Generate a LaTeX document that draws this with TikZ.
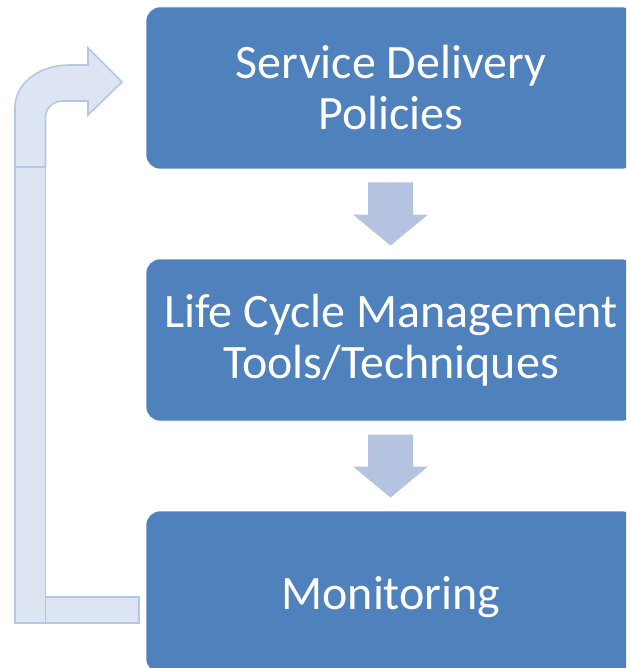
\documentclass[tikz,border=0pt]{standalone}
\usepackage{fontspec}
\setmainfont{Carlito}
\usetikzlibrary{calc}

\definecolor{boxblue}{HTML}{4F81BD}
\definecolor{downfill}{HTML}{B4C3DF}
\definecolor{loopfill}{HTML}{DCE5F1}
\definecolor{loopline}{HTML}{B3C8E3}

\tikzset{
  stagebox/.style={rectangle, rounded corners=14pt, fill=boxblue, draw=white, line width=0.6pt,
    minimum width=490pt, minimum height=162pt, text=white, align=center,
    font=\fontsize{48}{51}\selectfont},
  downarrow/.style={fill=downfill},
  looparrow/.style={fill=loopfill, draw=loopline, line width=1.6pt, line join=miter}
}

\begin{document}
\begin{tikzpicture}[x=1pt,y=-1pt]
            \clip (0,0) rectangle (626,668);
            \fill[white] (0,0) rectangle (626,668);

            \node[stagebox] (policies) at (391,88) {Service Delivery\\Policies};
            \node[stagebox] (tools) at (391,340) {Life Cycle Management\\Tools/Techniques};
            \node[stagebox, text height=44pt] (monitor) at (391,592) {Monitoring};

            % block arrows between the stages
            \coordinate (gap1) at ($(policies.south)!0.5!(tools.north)+(-0.5,0)$);
            \coordinate (gap2) at ($(tools.south)!0.5!(monitor.north)+(-0.5,0)$);
            \fill[downarrow,shift={(gap1)}] (-22.5,-31.5) -- (22.5,-31.5) -- (22.5,0.5) -- (37.5,0.5)
                -- (0,31.5) -- (-37.5,0.5) -- (-22.5,0.5) -- cycle;
            \fill[downarrow,shift={(gap2)}] (-22.5,-31.5) -- (22.5,-31.5) -- (22.5,0.5) -- (37.5,0.5)
                -- (0,31.5) -- (-37.5,0.5) -- (-22.5,0.5) -- cycle;

            % feedback loop from monitoring back to the policies
            \draw[looparrow] (45.5,597) rectangle (139,623);
            \draw[looparrow] (15,167) rectangle (45.5,623);
            \draw[looparrow] (15,167) -- (15,107) arc[start angle=180, end angle=270, x radius=54, y radius=42]
                -- (88,65) -- (88,48) -- (122,82) -- (88,115) -- (88,101) -- (63,101)
                arc[start angle=270, end angle=180, x radius=17.5, y radius=16] -- (45.5,167) -- cycle;
        \end{tikzpicture}
\end{document}
